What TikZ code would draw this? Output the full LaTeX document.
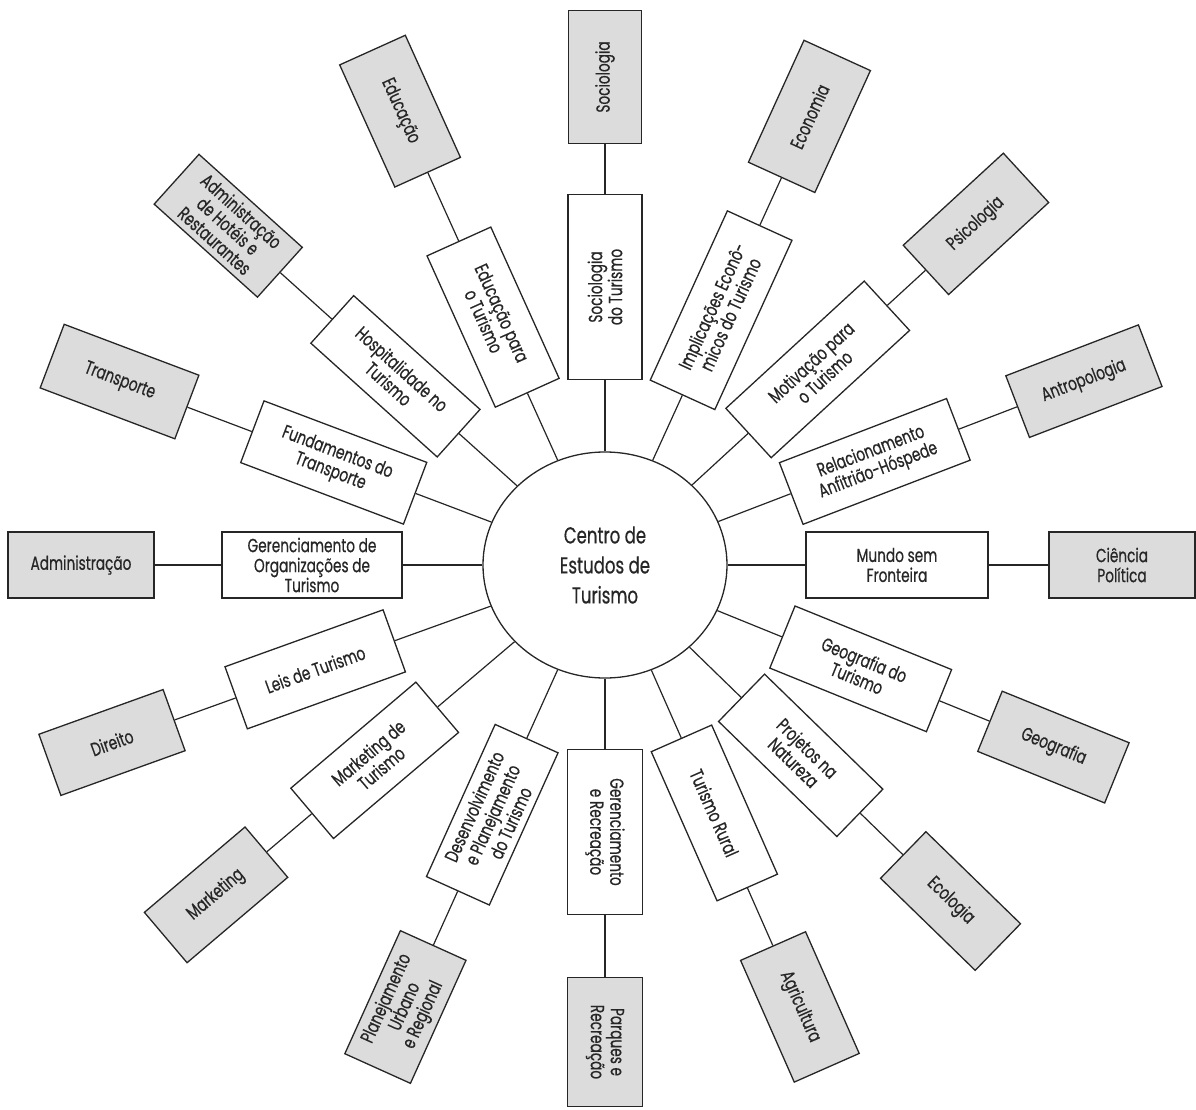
\documentclass[tikz,border=0pt]{standalone}
\usepackage{fontspec}
\setmainfont[FakeStretch=0.72,FakeBold=0.5]{Poppins}
\usetikzlibrary{shapes.geometric}
\definecolor{ink}{HTML}{262626}
\definecolor{shade}{HTML}{DCDCDC}
\tikzset{
  boxbase/.style={draw=ink, line width=1.3pt, rectangle, inner sep=0pt, align=center,
    text=ink, font=\fontsize{19}{20}\selectfont},
  ibox/.style={boxbase, fill=white},
  obox/.style={boxbase, fill=shade},
  link/.style={draw=ink, line width=1.2pt},
  hub/.style={draw=ink, line width=1.3pt, ellipse, inner sep=0pt, align=center,
    text=ink, font=\fontsize{23}{30}\selectfont}
}
% #1 id, #2 spoke angle, #3 text rotation, #4 inner dist, #5 inner len, #6 inner wid,
% #7 outer dist, #8 outer len, #9 outer wid
\newcommand\myspoke[9]{%
  \node[ibox, rotate=#3, minimum width=#5pt, minimum height=#6pt] (i#1) at (#2:#4pt) {\csname itext#1\endcsname};
  \node[obox, rotate=#3, minimum width=#8pt, minimum height=#9pt] (o#1) at (#2:#7pt) {\csname otext#1\endcsname};
  \path[link] (c) -- (i#1);
  \path[link] (i#1) -- (o#1);
}
\expandafter\def\csname itext1\endcsname{Mundo sem\\Fronteira}
\expandafter\def\csname otext1\endcsname{Ciência\\Política}
\expandafter\def\csname itext2\endcsname{Relacionamento\\Anfitrião-Hóspede}
\expandafter\def\csname otext2\endcsname{Antropologia}
\expandafter\def\csname itext3\endcsname{Motivação para\\o Turismo}
\expandafter\def\csname otext3\endcsname{Psicologia}
\expandafter\def\csname itext4\endcsname{Implicações Econô-\\micos do Turismo}
\expandafter\def\csname otext4\endcsname{Economia}
\expandafter\def\csname itext5\endcsname{Sociologia\\do Turismo}
\expandafter\def\csname otext5\endcsname{Sociologia}
\expandafter\def\csname itext6\endcsname{Educação para\\o Turismo}
\expandafter\def\csname otext6\endcsname{Educação}
\expandafter\def\csname itext7\endcsname{Hospitalidade no\\Turismo}
\expandafter\def\csname otext7\endcsname{Administração\\de Hotéis e\\Restaurantes}
\expandafter\def\csname itext8\endcsname{Fundamentos do\\Transporte}
\expandafter\def\csname otext8\endcsname{Transporte}
\expandafter\def\csname itext9\endcsname{Gerenciamento de\\Organizações de\\Turismo}
\expandafter\def\csname otext9\endcsname{Administração}
\expandafter\def\csname itext10\endcsname{Leis de Turismo}
\expandafter\def\csname otext10\endcsname{Direito}
\expandafter\def\csname itext11\endcsname{Marketing de\\Turismo}
\expandafter\def\csname otext11\endcsname{Marketing}
\expandafter\def\csname itext12\endcsname{Desenvolvimento\\e Planejamento\\do Turismo}
\expandafter\def\csname otext12\endcsname{Planejamento\\Urbano\\e Regional}
\expandafter\def\csname itext13\endcsname{Gerenciamento\\e Recreação}
\expandafter\def\csname otext13\endcsname{Parques e\\Recreação}
\expandafter\def\csname itext14\endcsname{Turismo Rural}
\expandafter\def\csname otext14\endcsname{Agricultura}
\expandafter\def\csname itext15\endcsname{Projetos na\\Natureza}
\expandafter\def\csname otext15\endcsname{Ecologia}
\expandafter\def\csname itext16\endcsname{Geografia do\\Turismo}
\expandafter\def\csname otext16\endcsname{Geografia}
\begin{document}
\begin{tikzpicture}
\useasboundingbox (-605pt,-544pt) rectangle (591pt,565pt);
\node[hub, minimum width=244pt, minimum height=226pt] (c) at (0,0) {Centro de\\Estudos de\\Turismo};
\myspoke{1}{0}{0}{292}{182}{66}{517}{146}{66}
\myspoke{2}{21}{21}{289}{179}{66}{513}{142}{66}
\myspoke{3}{42.6}{42.6}{289}{188}{67}{504}{136}{67}
\myspoke{4}{65.5}{65.5}{280}{186}{71}{493}{134}{73}
\myspoke{5}{90}{90}{278}{185}{74}{488}{133}{73}
\myspoke{6}{114.3}{-65.7}{272}{166}{70}{498}{134}{72}
\myspoke{7}{138}{-42}{282}{170}{64}{507}{139}{67}
\myspoke{8}{159.3}{-20.7}{290}{174}{66}{519}{144}{68}
\myspoke{9}{180}{0}{293}{180}{66}{524}{146}{66}
\myspoke{10}{199.8}{19.8}{308}{168}{66}{524}{132}{65}
\myspoke{11}{220.3}{40.3}{302}{164}{66}{510}{132}{66}
\myspoke{12}{245.7}{65.7}{274}{167}{69}{485}{135}{72}
\myspoke{13}{270}{-90}{267}{165}{75}{477}{129}{75}
\myspoke{14}{293.8}{-66.2}{271}{163}{66}{483}{133}{71}
\myspoke{15}{315.8}{-44.2}{273}{165}{66}{482}{132}{65}
\myspoke{16}{337.9}{-22.1}{276}{169}{67}{484}{137}{65}
\end{tikzpicture}
\end{document}
